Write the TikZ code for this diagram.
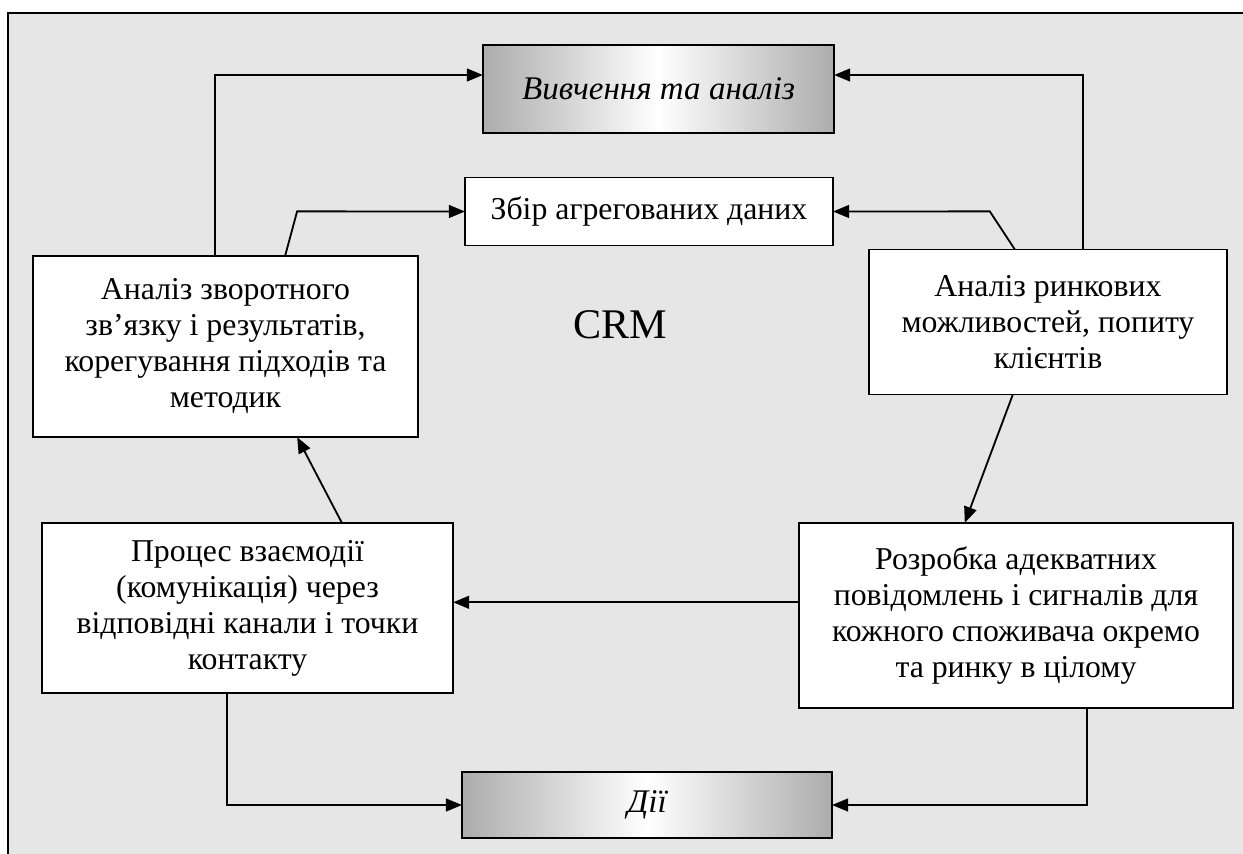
\documentclass[tikz,border=0pt]{standalone}
\usepackage{fontspec}
\setmainfont{Liberation Serif}
\usetikzlibrary{arrows.meta}
\definecolor{bgray}{HTML}{E6E6E6}

\begin{document}
\begin{tikzpicture}[x=0.025cm, y=-0.025cm, >={Triangle[length=4mm, width=3.2mm]},
        box/.style={draw, line width=1.1pt, fill=white, align=center, inner sep=0pt, outer sep=0pt, font=\fontsize{22.6}{25.6}\selectfont},
        shbox/.style={draw, line width=1.1pt, left color=gray!65, right color=gray!65, middle color=white, inner sep=0pt, outer sep=0pt, font=\fontsize{23.5}{26}\selectfont\itshape},
        link/.style={line width=1.3pt}]
        \useasboundingbox (0,0) rectangle (1243,854);
        \clip (0,0) rectangle (1243,854);
        \fill[white] (0,0) rectangle (1243,854);
        
        % Frame
        \draw[line width=1.6pt, fill=bgray] (8,13) rectangle (1270,880);
        
        % Shaded nodes
        \node (vyv) at (658.5,89) [shbox, minimum width=8.78cm, minimum height=2.2cm] {Вивчення та аналіз};
        \node (dii) at (647,805) [shbox, minimum width=9.25cm, minimum height=1.65cm] {Дії};
        
        % Nodes
        \node (zbir) at (649,211.5) [box, minimum width=9.2cm, minimum height=1.7cm] {Збір агрегованих даних};
        \node (zvor) at (225.5,346.5) [box, minimum width=9.63cm, minimum height=4.53cm] {Аналіз зворотного\\ зв’язку і результатів,\\ корегування підходів та\\ методик};
        \node (rynok) at (1048,322) [box, minimum width=8.95cm, minimum height=3.63cm] {Аналіз ринкових\\ можливостей, попиту\\ клієнтів};
        \node (proces) at (247.5,608) [box, minimum width=10.28cm, minimum height=4.25cm] {Процес взаємодії\\ (комунікація) через\\ відповідні канали і точки\\ контакту};
        \node (rozr) at (1016,615.5) [box, minimum width=10.85cm, minimum height=4.63cm] {Розробка адекватних\\ повідомлень і сигналів для\\ кожного споживача окремо\\ та ринку в цілому};
        
        % Centre
        \node (crm) at (620,325) [font=\fontsize{30}{32}\selectfont] {CRM};
        
        % Arrows to the top boxes
        \draw[link, ->] ([xshift=-0.26cm]zvor.north) |- ([yshift=0.35cm]vyv.west);
        \draw[link, ->] ([xshift=1.49cm]zvor.north) -- ++(12,-44.5) -- (zbir.west);
        \draw[link, ->] ([xshift=-0.83cm]rynok.north) -- ++(-25,-38) -- (zbir.east);
        \draw[link, ->] ([xshift=0.88cm]rynok.north) |- ([yshift=0.35cm]vyv.east);
        
        % Arrows round the cycle
        \draw[link, ->] ([xshift=-0.88cm]rynok.south) -- ([xshift=-1.28cm]rozr.north);
        \draw[link, ->] ([yshift=0.33cm]rozr.west) -- ([yshift=0.33cm]rozr.west -| proces.east);
        \draw[link, ->] ([xshift=2.36cm]proces.north) -- ([xshift=1.79cm]zvor.south);
        
        % Arrows to Dii
        \draw[link, ->] ([xshift=-0.51cm]proces.south) |- (dii.west);
        \draw[link, ->] ([xshift=1.78cm]rozr.south) |- (dii.east);
    \end{tikzpicture}
\end{document}
